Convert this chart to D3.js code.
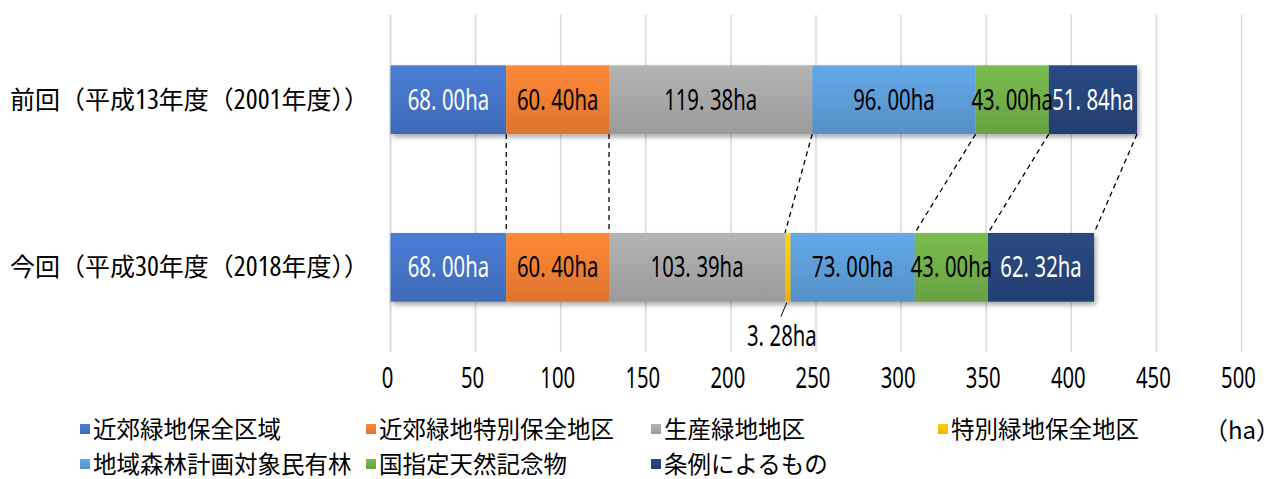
<!DOCTYPE html>
<html>
<head>
<meta charset="utf-8">
<script src="https://cdn.jsdelivr.net/npm/d3@7"></script>
<style>
  html, body { margin: 0; padding: 0; background: #fff; }
  svg { display: block; font-family: "Noto Sans CJK JP", "Noto Sans", sans-serif; }
  .narrow { font-family: "Open Sans", "Noto Sans", sans-serif; font-stretch: 75%; }
</style>
</head>
<body>
<svg width="1280" height="479"></svg>
<script>
// data
const categories = ["前回（平成13年度（2001年度））", "今回（平成30年度（2018年度））"];
const seriesNames = ["近郊緑地保全区域", "近郊緑地特別保全地区", "生産緑地地区", "特別緑地保全地区",
                     "地域森林計画対象民有林", "国指定天然記念物", "条例によるもの"];
const prevValues = [68.00, 60.40, 119.38, 0, 96.00, 43.00, 51.84];
const currValues = [68.00, 60.40, 103.39, 3.28, 73.00, 43.00, 62.32];
const seriesColors = ["#4472C4", "#ED7D31", "#A5A5A5", "#FFC000", "#5B9BD5", "#70AD47", "#264478"];
const labelColors = ["#fff", "#000", "#000", "#000", "#000", "#000", "#fff"];
const xTicks = [0, 50, 100, 150, 200, 250, 300, 350, 400, 450, 500];
const unitLabel = "（ha）";

const svg = d3.select("svg");
const margin = { left: 390.5, right: 38.5, top: 15, bottom: 127 };
const width = +svg.attr("width");
const height = +svg.attr("height");
const squeeze = 0.7; // the source font has tall narrow digits

const rows = categories.map((c, i) => {
    const r = { cat: c };
    const vals = i === 0 ? prevValues : currValues;
    seriesNames.forEach((s, j) => r[s] = vals[j]);
    return r;
});

const layers = d3.stack().keys(seriesNames)(rows);

const x = d3.scaleLinear().domain([0, 500]).range([margin.left, width - margin.right]);
const y = d3.scaleBand().domain(categories)
    .range([margin.top, height - margin.bottom])
    .paddingInner(0.59).paddingOuter(0.3);

const defs = svg.append("defs");
const shadow = defs.append("filter").attr("id", "shadow")
    .attr("x", "-5%").attr("y", "-20%").attr("width", "115%").attr("height", "160%");
shadow.append("feDropShadow").attr("dx", 2).attr("dy", 3).attr("stdDeviation", 2.5)
    .attr("flood-color", "#000").attr("flood-opacity", 0.35);

seriesColors.forEach((c, i) => {
    const g = defs.append("linearGradient").attr("id", "grad" + i)
        .attr("x1", 0).attr("x2", 0).attr("y1", 0).attr("y2", 1);
    g.append("stop").attr("offset", "0%").attr("stop-color", d3.color(c).brighter(0.25));
    g.append("stop").attr("offset", "100%").attr("stop-color", d3.color(c).darker(0.2));
});

// gridlines
svg.append("g").selectAll("line").data(xTicks).join("line")
    .attr("x1", d => x(d)).attr("x2", d => x(d))
    .attr("y1", margin.top).attr("y2", height - margin.bottom)
    .attr("stroke", "#d9d9d9")
    .attr("stroke-width", d => d === 0 ? 2 : 1.5);

// tick labels
svg.append("g").selectAll("text").data(xTicks).join("text")
    .attr("transform", d => `translate(${x(d) - 3},378) scale(${squeeze},1)`)
    .attr("dy", "0.35em")
    .attr("text-anchor", "middle")
    .attr("font-family", "Noto Sans")
    .attr("font-size", 29)
    .attr("fill", "#000")
    .text(d => d);

// category labels, digit runs in a narrow face
const catText = svg.append("g").selectAll("text").data(categories).join("text")
    .attr("x", 10).attr("y", d => y(d) + y.bandwidth() / 2)
    .attr("dy", "0.36em")
    .attr("font-size", 25)
    .attr("fill", "#000");
catText.each(function(d) {
    const t = d3.select(this);
    d.split(/(\d+)/).filter(s => s.length).forEach(part => {
        const sp = t.append("tspan").text(part);
        if (/^\d+$/.test(part)) sp.attr("class", "narrow").attr("font-size", 28);
    });
});

// connectors between bar ends
const yTopBottom = y(categories[0]) + y.bandwidth();
const yBotTop = y(categories[1]);
const connectors = layers.filter((l, i) => prevValues[i] > 0);
svg.append("g").selectAll("line").data(connectors).join("line")
    .attr("x1", d => x(d[0][1])).attr("y1", yTopBottom)
    .attr("x2", d => x(d[1][1])).attr("y2", yBotTop)
    .attr("stroke", "#000").attr("stroke-width", 1.3)
    .attr("stroke-dasharray", "5,4");

// bars
const barG = svg.append("g").attr("filter", "url(#shadow)");
barG.selectAll("g").data(layers).join("g")
    .attr("fill", (d, i) => `url(#grad${i})`)
    .selectAll("rect").data(d => d.filter(p => p[1] - p[0] > 0)).join("rect")
    .attr("x", d => x(d[0]))
    .attr("width", d => x(d[1]) - x(d[0]))
    .attr("y", d => y(d.data.cat))
    .attr("height", y.bandwidth());

// data labels
const fmt = d3.format(".2f");
function valueLabel(g, v, cx, cy, color) {
    const parts = fmt(v).split(".");
    const t = g.append("text")
        .attr("transform", `translate(${cx},${cy}) scale(${squeeze},1)`)
        .attr("dy", "0.35em")
        .attr("text-anchor", "middle")
        .attr("font-family", "Noto Sans")
        .attr("font-size", 29)
        .attr("fill", color);
    t.append("tspan").text(parts[0] + ".");
    t.append("tspan").attr("dx", 8).text(parts[1] + "ha");
}
const labelG = svg.append("g");
layers.forEach((layer, i) => {
    layer.forEach(p => {
        const v = p[1] - p[0];
        if (v <= 0) return;
        const cx = x((p[0] + p[1]) / 2);
        if (v < 10) {
            // small segment: label below with leader line
            const by = y(p.data.cat) + y.bandwidth();
            labelG.append("line")
                .attr("x1", cx - 1).attr("y1", by + 1)
                .attr("x2", cx - 7).attr("y2", by + 15)
                .attr("stroke", "#000").attr("stroke-width", 1);
            valueLabel(labelG, v, cx - 6, by + 34, "#000");
            return;
        }
        valueLabel(labelG, v, cx, y(p.data.cat) + y.bandwidth() / 2, labelColors[i]);
    });
});

// legend
const legendCols = [80, 366, 651, 938];
const legendRows = [430, 465];
const legend = svg.append("g");
seriesNames.forEach((s, i) => {
    const lx = legendCols[i % 4];
    const ly = legendRows[Math.floor(i / 4)];
    legend.append("rect")
        .attr("x", lx).attr("y", ly - 6)
        .attr("width", 10).attr("height", 10)
        .attr("fill", `url(#grad${i})`);
    legend.append("text")
        .attr("x", lx + 13).attr("y", ly)
        .attr("dy", "0.36em")
        .attr("font-size", 23.5)
        .attr("fill", "#000")
        .text(s);
});

svg.append("text")
    .attr("x", 1280).attr("y", 430)
    .attr("dy", "0.36em")
    .attr("text-anchor", "end")
    .attr("font-size", 24)
    .attr("fill", "#000")
    .text(unitLabel);
</script>
</body>
</html>
